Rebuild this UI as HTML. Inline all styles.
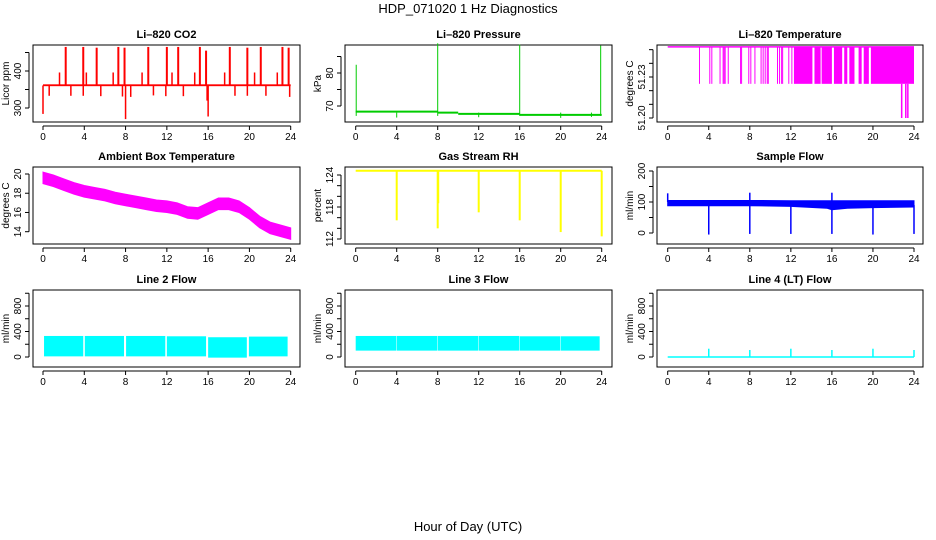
<!DOCTYPE html>
<html><head><meta charset="utf-8">
<style>
html,body{margin:0;padding:0;background:#fff;}
svg{display:block;font-family:"Liberation Sans",sans-serif;}
</style></head>
<body>
<svg id="chart" width="936" height="540" viewBox="0 0 936 540" xmlns="http://www.w3.org/2000/svg">
<rect width="936" height="540" fill="#fff"/>
<text x="468" y="13" font-size="13" text-anchor="middle">HDP_071020  1 Hz Diagnostics</text>
<text x="468" y="531" font-size="13" text-anchor="middle">Hour of Day (UTC)</text>
</svg>
<script>
// ---- data ----
const xTicks = [0,4,8,12,16,20,24];
// CO2
const co2Base = 361;
const co2UpTimes = [2.2,3.9,5.2,7.3,7.9,10.2,12.0,13.1,15.2,15.8,18.1,19.8,21.1,23.2,23.8];
const co2UpVals  = [465,465,463,465,463,465,465,465,465,455,465,463,465,465,463];
const co2SmallTimes = [1.6,4.2,6.8,9.6,12.5,14.7,17.6,20.5,22.7];
const co2SmallVals  = [396,396,396,396,396,396,396,396,396];
const co2DownTimes = [0.0,0.6,2.7,3.9,5.6,7.7,8.0,8.5,10.7,11.9,13.6,15.9,16.0,18.6,19.8,21.6,23.9];
const co2DownVals  = [284,333,333,333,332,331,270,330,334,332,332,320,277,333,333,333,330];
// Pressure
const presSegStart = [0,8,10,16];
const presSegEnd   = [8,10,16,24];
const presSegVal   = [68.3,68.0,67.6,67.3];
const presSpikeTimes = [0.05,8.0,16.0,23.9];
const presSpikeVals  = [82.5,89,88.6,88.3];
const presDipTimes = [4,12,20,23];
const presDipVals  = [66.5,66.6,66.4,66.7];
// Li-820 temperature
const tempTop = 51.252, tempLow = 51.225, tempMin = 51.20;
const tempDropTimes = [3.1,4.1,4.3,5.1,5.4,5.5,5.6,5.9,7.1,7.2,7.9,8.1,8.5,9.1,9.3,9.5,9.7,9.8,10.7,10.9,11.1,11.2,11.8,12.1];
const tempBlockStart = [12.3,14.3,15.0,16.2,17.2,17.7,18.6,19.1,19.8];
const tempBlockEnd   = [14.1,14.9,16.0,17.0,17.5,18.2,18.9,19.6,24.0];
const tempMinTimes = [22.8,23.2,23.4];
// Ambient box temperature (hourly center)
const ambHours = [0,1,2,3,4,5,6,7,8,9,10,11,12,13,14,15,16,17,18,19,20,21,22,23,24];
const ambVals  = [19.6,19.3,18.9,18.5,18.2,18.0,17.8,17.5,17.3,17.1,16.9,16.7,16.6,16.4,16.0,15.9,16.4,16.9,16.9,16.6,15.9,15.0,14.4,14.1,13.8];
const ambHalfWidth = 0.6;
// Gas stream RH
const rhTop = 124.8;
const rhDipTimes = [4,8,8.05,12,16,20,24];
const rhDipVals  = [115.5,114,118.7,117.0,115.5,113.3,112.5];
// Sample flow
const sfHours = [0,4,8,12,15.5,16,17.5,20,24];
const sfLow   = [88,88,88,86,80,75,80,82,84];
const sfHigh  = [105,105,105,104,104,104,104,104,104];
const sfDipTimes = [4,8,12,16,20,24];
const sfDipVals  = [-5,-3,-3,-3,-5,-3];
const sfUpTimes = [0,8,16];
const sfUpVals  = [128,130,130];
// Line 2 flow
const l2SegStart = [0.1,4.05,8.05,12.0,16.0,19.95];
const l2SegEnd   = [3.9,7.85,11.85,15.8,19.75,23.7];
const l2Low  = [10,10,10,10,-10,10];
const l2High = [330,330,330,325,310,320];
// Line 3 flow
const l3SegStart = [0.0,4.0,8.0,12.0,16.0,20.0];
const l3SegEnd   = [3.95,7.95,11.95,15.95,19.95,23.8];
const l3Low  = [100,100,100,100,100,100];
const l3High = [330,330,330,330,325,325];
// Line 4 flow
const l4Base = 0;
const l4SpikeTimes = [4,8,12,16,20,24];
const l4SpikeVals  = [130,110,130,110,130,110];

// ---- layout ----
const svg = document.getElementById('chart');
const NS = 'http://www.w3.org/2000/svg';
const cols = [{l:33,r:300,x0:43,x24:290.7},{l:345,r:612,x0:355.7,x24:601.7},{l:657,r:923,x0:667.7,x24:914}];
const rows = [{t:45,b:122},{t:167,b:244},{t:290,b:367}];

function el(tag, attrs, parent){
  const e = document.createElementNS(NS, tag);
  for (const k in attrs) e.setAttribute(k, attrs[k]);
  (parent||svg).appendChild(e);
  return e;
}

function panel(ci, ri, title, ylab, yA, yB, pyA, pyB, ticks, labels, name){
  const c = cols[ci], r = rows[ri];
  const g = el('g', {});
  
  
  const xs = t => c.x0 + (c.x24 - c.x0) * t / 24;
  const ys = v => pyA + (pyB - pyA) * (v - yA) / (yB - yA);
  const box = el('rect', {x:c.l, y:r.t, width:c.r-c.l, height:r.b-r.t, fill:'none', stroke:'#000', 'stroke-width':1}, g);
  
  
  const tt = el('text', {x:(c.l+c.r)/2, y:r.t-7, 'font-size':11, 'font-weight':'bold', 'text-anchor':'middle'}, g);
  
  
  tt.textContent = title;
  // x axis
  el('line', {x1:xs(0), x2:xs(24), y1:r.b+4, y2:r.b+4, stroke:'#000'}, g);
  xTicks.forEach(t => {
    el('line', {x1:xs(t), x2:xs(t), y1:r.b+4, y2:r.b+8, stroke:'#000'}, g);
    const lt = el('text', {x:xs(t), y:r.b+18, 'font-size':10, 'text-anchor':'middle'}, g);
    
    
    lt.textContent = t;
  });
  // y axis
  const ax = c.l - 4;
  el('line', {x1:ax, x2:ax, y1:ys(ticks[0]), y2:ys(ticks[ticks.length-1]), stroke:'#000'}, g);
  ticks.forEach(v => {
    el('line', {x1:ax-4, x2:ax, y1:ys(v), y2:ys(v), stroke:'#000'}, g);
  });
  labels.forEach(v => {
    const lt = el('text', {x:0, y:0, 'font-size':10, 'text-anchor':'middle', transform:`translate(${ax-8},${ys(v)}) rotate(-90)`}, g);
    
    
    lt.textContent = (typeof v === 'number' && ci===2 && ri===0) ? v.toFixed(2) : v;
  });
  const yl = el('text', {x:0, y:0, 'font-size':10, 'text-anchor':'middle', transform:`translate(${c.l-24},${(r.t+r.b)/2}) rotate(-90)`}, g);
  
  
  yl.textContent = ylab;
  const dg = el('g', {}, g);
  
  
  return {xs, ys, g:dg};
}
function vline(p, t, v1, v2, col, w){
  el('line', {x1:p.xs(t), x2:p.xs(t), y1:p.ys(v1), y2:p.ys(v2), stroke:col, 'stroke-width':w||1.5}, p.g);
}
function band(p, hours, lo, hi, col){
  let d = 'M' + hours.map((h,i)=>p.xs(h)+','+p.ys(hi[i])).join(' L');
  d += ' L' + hours.slice().reverse().map((h,i)=>p.xs(h)+','+p.ys(lo[hours.length-1-i])).join(' L') + 'Z';
  el('path', {d, fill:col, stroke:col}, p.g);
}

// CO2
let p = panel(0,0,'Li\u2013820 CO2','Licor ppm',300,400,108,71,[300,350,400,450],[300,400],'co2-panel');
el('rect',{x:p.xs(0),y:p.ys(co2Base+3),width:p.xs(24)-p.xs(0),height:p.ys(co2Base-2)-p.ys(co2Base+3),fill:'#f00'},p.g);
co2UpTimes.forEach((t,i)=>vline(p,t,co2Base,co2UpVals[i],'#f00',2));
co2SmallTimes.forEach((t,i)=>vline(p,t,co2Base,co2SmallVals[i],'#f00',1.5));
co2DownTimes.forEach((t,i)=>vline(p,t,co2Base,co2DownVals[i],'#f00',1.5));

// Pressure
p = panel(1,0,'Li\u2013820 Pressure','kPa',70,80,106,73,[70,75,80,85],[70,80],'pressure-panel');
presSegStart.forEach((s,i)=>el('line',{x1:p.xs(s),x2:p.xs(presSegEnd[i]),y1:p.ys(presSegVal[i]),y2:p.ys(presSegVal[i]),stroke:'#0c0','stroke-width':2},p.g));
presSpikeTimes.forEach((t,i)=>vline(p,t,67,presSpikeVals[i],'#0c0',1));
presDipTimes.forEach((t,i)=>vline(p,t,68,presDipVals[i],'#0c0',1));

// Li-820 Temperature
p = panel(2,0,'Li\u2013820 Temperature','degrees C',51.20,51.23,118,77,[51.20,51.21,51.22,51.23,51.24,51.25],[51.20,51.23],'temperature-panel');
el('line',{x1:p.xs(0),x2:p.xs(24),y1:p.ys(tempTop),y2:p.ys(tempTop),stroke:'#f0f','stroke-width':1.5},p.g);
tempDropTimes.forEach(t=>vline(p,t,tempTop,tempLow,'#f0f',1));
tempBlockStart.forEach((s,i)=>el('rect',{x:p.xs(s),y:p.ys(tempTop),width:p.xs(tempBlockEnd[i])-p.xs(s),height:p.ys(tempLow)-p.ys(tempTop),fill:'#f0f'},p.g));
tempMinTimes.forEach(t=>vline(p,t,tempLow,tempMin,'#f0f',1.5));

// Ambient
p = panel(0,1,'Ambient Box Temperature','degrees C',14,20,231.7,174,[14,16,18,20],[14,16,18,20],'ambient-temperature-panel');
band(p, ambHours, ambVals.map(v=>v-ambHalfWidth), ambVals.map(v=>v+ambHalfWidth), '#f0f');

// RH
p = panel(1,1,'Gas Stream RH','percent',112,124,239,175,[112,114,116,118,120,122,124],[112,118,124],'rh-panel');
el('line',{x1:p.xs(0),x2:p.xs(24),y1:p.ys(rhTop),y2:p.ys(rhTop),stroke:'#ff0','stroke-width':2},p.g);
rhDipTimes.forEach((t,i)=>vline(p,t,rhTop,rhDipVals[i],'#ff0',2));

// Sample flow
p = panel(2,1,'Sample Flow','ml/min',0,200,233,171,[0,50,100,150,200],[0,100,200],'sample-flow-panel');
band(p, sfHours, sfLow, sfHigh, '#00f');
sfDipTimes.forEach((t,i)=>vline(p,t,90,sfDipVals[i],'#00f',1.5));
sfUpTimes.forEach((t,i)=>vline(p,t,100,sfUpVals[i],'#00f',1.5));

// Line 2
p = panel(0,2,'Line 2 Flow','ml/min',0,800,357,306,[0,200,400,600,800,1000],[0,400,800],'line2-flow-panel');
l2SegStart.forEach((s,i)=>el('rect',{x:p.xs(s),y:p.ys(l2High[i]),width:p.xs(l2SegEnd[i])-p.xs(s),height:p.ys(l2Low[i])-p.ys(l2High[i]),fill:'#0ff'},p.g));

// Line 3
p = panel(1,2,'Line 3 Flow','ml/min',0,800,357,306,[0,200,400,600,800,1000],[0,400,800],'line3-flow-panel');
l3SegStart.forEach((s,i)=>el('rect',{x:p.xs(s),y:p.ys(l3High[i]),width:p.xs(l3SegEnd[i])-p.xs(s),height:p.ys(l3Low[i])-p.ys(l3High[i]),fill:'#0ff'},p.g));

// Line 4
p = panel(2,2,'Line 4 (LT) Flow','ml/min',0,800,357,306,[0,200,400,600,800,1000],[0,400,800],'line4-flow-panel');
el('line',{x1:p.xs(0),x2:p.xs(24),y1:p.ys(l4Base),y2:p.ys(l4Base),stroke:'#0ff','stroke-width':1.5},p.g);
l4SpikeTimes.forEach((t,i)=>vline(p,t,l4Base,l4SpikeVals[i],'#0ff',1.5));
</script>
</body></html>
